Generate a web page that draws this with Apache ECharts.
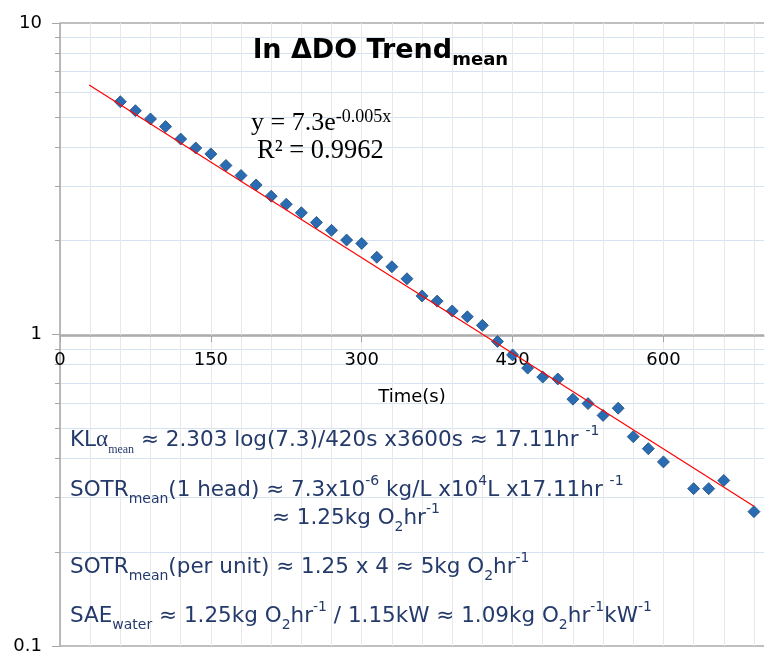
<!DOCTYPE html>
<html>
<head>
<meta charset="utf-8">
<title>ln DO trend</title>
<script src="https://cdn.jsdelivr.net/npm/echarts@6/dist/echarts.min.js"></script>
<style>
  html, body { margin: 0; padding: 0; background: #fff; }
  #main { width: 768px; height: 655px; }
</style>
</head>
<body>
<div id="main"></div>
<script>
var times = [60, 75, 90, 105, 120, 135, 150, 165, 180, 195, 210, 225, 240, 255, 270, 285, 300, 315, 330,
             345, 360, 375, 390, 405, 420, 435, 450, 465, 480, 495, 510, 525, 540, 555, 570, 585, 600,
             630, 645, 660, 690];
var deltaDO = [5.59, 5.23, 4.92, 4.65, 4.24, 3.97, 3.80, 3.49, 3.24, 3.02, 2.78, 2.62, 2.46, 2.29, 2.16, 2.01, 1.96, 1.77, 1.65,
               1.51, 1.33, 1.28, 1.19, 1.14, 1.07, 0.95, 0.86, 0.78, 0.73, 0.72, 0.62, 0.60, 0.55, 0.58, 0.47, 0.43, 0.39,
               0.32, 0.32, 0.34, 0.27];

// exponential trendline end points
var trendX = [29, 690];
var trendY = [6.32, 0.281];

var xTicks = [0, 150, 300, 450, 600];

var pts = [];
for (var i = 0; i < times.length; i++) {
  pts.push([times[i], deltaDO[i]]);
}
var trend = [];
for (var j = 0; j < trendX.length; j++) {
  trend.push([trendX[j], trendY[j]]);
}

var myChart = echarts.init(document.getElementById('main'));

var sans = 'DejaVu Sans';
var note = '#243a6a';
var base = { fontFamily: sans, fontSize: 21.5, lineHeight: 32, fill: note };
var sub = { fontFamily: sans, fontSize: 14, lineHeight: 14, verticalAlign: 'bottom', fill: note };
var sup = { fontFamily: sans, fontSize: 14, lineHeight: 20, verticalAlign: 'top', fill: note };
var noteRich = {
  b: base, sub: sub, sup: sup,
  ga: { fontFamily: 'Liberation Serif', fontSize: 23, lineHeight: 32, fill: note },
  gs: { fontFamily: 'Liberation Serif', fontSize: 12, lineHeight: 12, verticalAlign: 'bottom', fill: note }
};

function noteText(x, y, txt) {
  return {
    type: 'text', x: x, y: y, z: 100,
    style: { text: txt, rich: noteRich, verticalAlign: 'middle', align: 'left' }
  };
}

var option = {
  animation: false,
  grid: [
    { left: 60, right: 4, top: 23, bottom: 7 },
    { left: 60, right: 4, top: 23, height: 313 }
  ],
  xAxis: [
    {
      gridIndex: 0, type: 'value', min: 0, max: 700, interval: 30,
      axisLine: { show: false }, axisTick: { show: false }, axisLabel: { show: false },
      splitLine: { show: true, showMaxLine: false, lineStyle: { color: '#e8e8e8', width: 1 } }
    },
    {
      gridIndex: 1, type: 'value', min: 0, max: 700, interval: 150,
      name: 'Time(s)', nameLocation: 'middle', nameGap: 52,
      nameTextStyle: { fontFamily: sans, fontSize: 18, color: '#000' },
      axisLine: { show: true, lineStyle: { color: '#a6a6a6', width: 1.5 } },
      axisTick: { show: true, length: 6, customValues: xTicks, lineStyle: { color: '#a6a6a6' } },
      axisLabel: { customValues: xTicks, margin: 15, fontFamily: sans, fontSize: 18, color: '#000' },
      splitLine: { show: false }
    }
  ],
  yAxis: [
    {
      gridIndex: 0, type: 'log', logBase: 10, min: 0.1, max: 10,
      axisLine: { show: true, lineStyle: { color: '#a6a6a6', width: 1.5 } },
      axisTick: { show: true, length: 8, lineStyle: { color: '#a6a6a6' } },
      minorTick: { show: true, splitNumber: 9, length: 5, lineStyle: { color: '#a6a6a6' } },
      axisLabel: { margin: 18, fontFamily: sans, fontSize: 18, color: '#000' },
      splitLine: { show: true, lineStyle: { color: '#aaaaaa', width: 1.5 } },
      minorSplitLine: { show: true, lineStyle: { color: '#d5e2f2', width: 1 } }
    },
    {
      gridIndex: 1, type: 'value', min: 0, max: 1, show: false
    }
  ],
  series: [
    {
      name: 'DO', type: 'scatter', xAxisIndex: 0, yAxisIndex: 0,
      data: pts, symbol: 'diamond', symbolSize: 12, z: 3,
      itemStyle: { color: '#2a6cb3', borderColor: '#1f4e79', borderWidth: 0.8, opacity: 1 }
    },
    {
      name: 'trend', type: 'line', xAxisIndex: 0, yAxisIndex: 0,
      data: trend, symbol: 'none', z: 4,
      lineStyle: { color: '#ff0000', width: 1.2 }
    }
  ],
  graphic: [
    {
      type: 'text', x: 253, y: 51, z: 100,
      style: {
        text: '{t|ln ΔDO Trend}{ts|mean}', verticalAlign: 'middle', align: 'left',
        rich: {
          t: { fontFamily: sans, fontWeight: 'bold', fontSize: 27, lineHeight: 36, fill: '#000' },
          ts: { fontFamily: sans, fontWeight: 'bold', fontSize: 18, lineHeight: 18, verticalAlign: 'bottom', fill: '#000' }
        }
      }
    },
    {
      type: 'text', x: 251, y: 123, z: 100,
      style: {
        text: '{e|y = 7.3e}{es|-0.005x}', verticalAlign: 'middle', align: 'left',
        rich: {
          e: { fontFamily: 'Liberation Serif', fontSize: 26, lineHeight: 30, fill: '#000' },
          es: { fontFamily: 'Liberation Serif', fontSize: 18, lineHeight: 20, verticalAlign: 'top', fill: '#000' }
        }
      }
    },
    {
      type: 'text', x: 257, y: 151, z: 100,
      style: { text: 'R² = 0.9962', verticalAlign: 'middle', align: 'left',
               fontFamily: 'Liberation Serif', fontSize: 26.5, fill: '#000' }
    },
    noteText(70, 440, '{b|KL}{ga|α}{gs|mean}{b| ≈ 2.303 log(7.3)/420s x3600s ≈ 17.11hr }{sup|-1}'),
    noteText(70, 490, '{b|SOTR}{sub|mean}{b|(1 head) ≈ 7.3x10}{sup|-6}{b| kg/L x10}{sup|4}{b|L x17.11hr }{sup|-1}'),
    noteText(272, 518, '{b|≈ 1.25kg O}{sub|2}{b|hr}{sup|-1}'),
    noteText(70, 567, '{b|SOTR}{sub|mean}{b|(per unit) ≈ 1.25 x 4 ≈ 5kg O}{sub|2}{b|hr}{sup|-1}'),
    noteText(70, 616, '{b|SAE}{sub|water}{b| ≈ 1.25kg O}{sub|2}{b|hr}{sup|-1}{b| / 1.15kW ≈ 1.09kg O}{sub|2}{b|hr}{sup|-1}{b|kW}{sup|-1}')
  ]
};

myChart.setOption(option);
</script>
</body>
</html>
